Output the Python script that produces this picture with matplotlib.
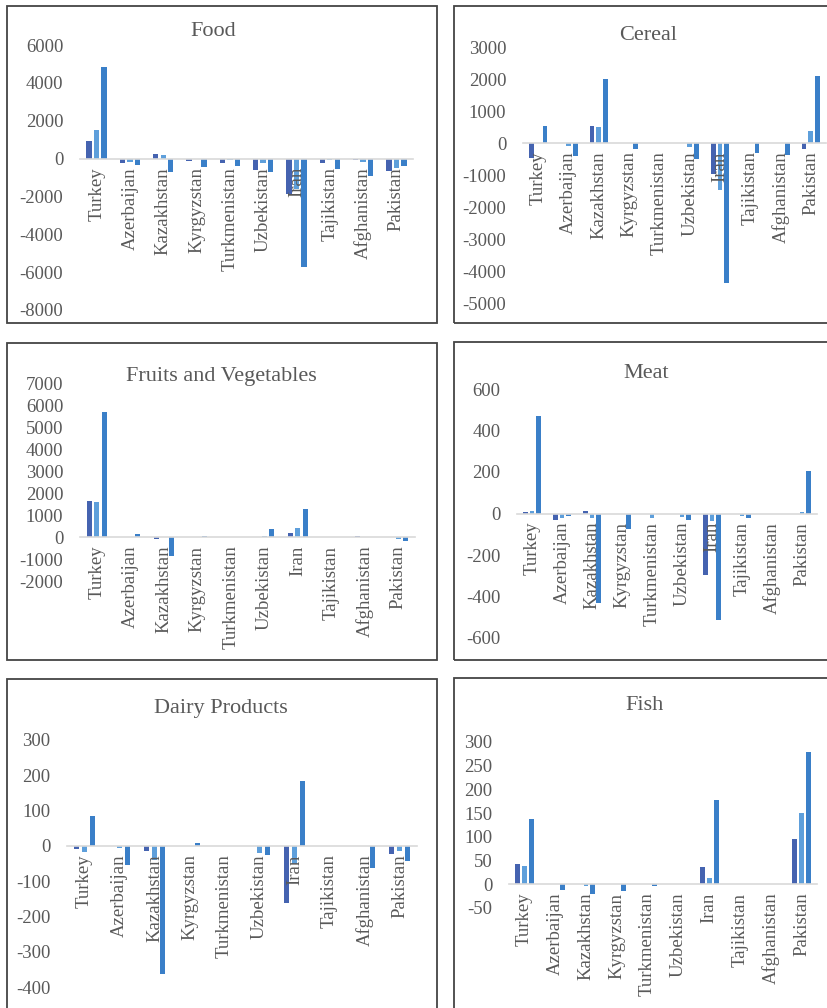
import numpy as np
import matplotlib
matplotlib.use("Agg")
import matplotlib.pyplot as plt
from matplotlib.patches import Rectangle

countries = ["Turkey", "Azerbaijan", "Kazakhstan", "Kyrgyzstan", "Turkmenistan",
             "Uzbekistan", "Iran", "Tajikistan", "Afghanistan", "Pakistan"]

# three series per panel (dark, light, medium blue)
food_s1 = [950, -210, 230, -140, -250, -600, -1870, -250, -90, -650]
food_s2 = [1500, -200, 180, -30, -90, -250, -1600, -90, -160, -490]
food_s3 = [4850, -350, -700, -440, -390, -700, -5730, -550, -920, -390]

cereal_s1 = [-480, 0, 520, 0, 0, 0, -970, 0, 0, -180]
cereal_s2 = [0, -100, 490, 0, 0, -130, -1460, 0, 0, 375]
cereal_s3 = [520, -420, 2010, -200, 0, -490, -4375, -310, -375, 2100]

fruit_s1 = [1670, 0, -90, 0, 0, 0, 210, 0, 60, 0]
fruit_s2 = [1620, 0, 0, 0, 0, 60, 430, 0, 0, -80]
fruit_s3 = [5730, 150, -860, 60, 0, 380, 1300, 0, 0, -170]

meat_s1 = [5, -29, 11, 0, 0, 0, -295, 0, 0, 0]
meat_s2 = [10, -24, -24, 0, -24, -19, -35, -13, 0, 5]
meat_s3 = [470, -11, -430, -76, 0, -29, -513, -24, 0, 206]

dairy_s1 = [-9, 0, -15, 0, 0, 0, -162, 0, 0, -23]
dairy_s2 = [-17, -7, -41, 0, 0, -20, -50, 0, 0, -15]
dairy_s3 = [86, -55, -363, 7, 0, -26, 185, 0, -62, -44]

fish_s1 = [43, 0, 0, 0, 0, 0, 37, 0, 0, 96]
fish_s2 = [39, 0, -4, 0, 0, 0, 13, 0, 0, 151]
fish_s3 = [137, -11, -20, -15, -4, 0, 178, 0, 0, 278]

colors = ["#4563b0", "#5e9fdb", "#3a7fc8"]
W, H = 828, 1008
GRAY = "#595959"
FONT = "Liberation Serif"

fig = plt.figure(figsize=(W / 100, H / 100), dpi=100)


def box(x0, y0, x1, y1):
    fig.patches.append(Rectangle((x0 / W, 1 - y1 / H), (x1 - x0) / W, (y1 - y0) / H,
                                 transform=fig.transFigure, fill=False,
                                 edgecolor="#444444", linewidth=1.3, zorder=0))


def panel(px, title, title_xy, series, ticks):
    l, t, r, b = px
    ax = fig.add_axes([l / W, 1 - b / H, (r - l) / W, (b - t) / H])
    # zero-line axis first: moving the spine resets tick settings
    for s in ["top", "right", "left"]:
        ax.spines[s].set_visible(False)
    ax.spines["bottom"].set_position(("data", 0))
    ax.spines["bottom"].set_color("#d9d9d9")
    ax.spines["bottom"].set_linewidth(1.2)
    x = np.arange(len(countries))
    for k, (vals, c) in enumerate(zip(series, colors)):
        ax.bar(x + (k - 1) * 0.225, vals, width=0.16, color=c, zorder=1)
    ax.set_xlim(-0.5, len(countries) - 0.5)
    ax.set_ylim(ticks[0], ticks[-1])
    ax.set_yticks(ticks)
    ax.set_yticklabels([str(v) for v in ticks], fontsize=13.5, color=GRAY, family=FONT)
    ax.set_xticks(x)
    ax.set_xticklabels(countries, rotation=90, fontsize=13.5, color=GRAY, family=FONT,
                       va="top", ha="center")
    ax.tick_params(axis="both", length=0)
    ax.tick_params(axis="x", pad=6)
    ax.tick_params(axis="y", pad=12)
    ax.patch.set_alpha(0)
    fig.text(title_xy[0] / W, 1 - (title_xy[1] + 3) / H, title, ha="center", va="center",
             fontsize=16, color=GRAY, family=FONT)
    return ax


box(7, 6, 437, 323)
box(454, 6, 832, 323)
box(7, 343, 437, 660)
box(454, 342, 832, 660)
box(7, 679, 437, 1012)
box(454, 678, 832, 1012)

panel((80, 45, 413, 310), "Food", (213, 28), [food_s1, food_s2, food_s3],
      list(range(-8000, 6001, 2000)))
panel((523, 47, 826, 303), "Cereal", (648, 33), [cereal_s1, cereal_s2, cereal_s3],
      list(range(-5000, 3001, 1000)))
panel((80, 384, 415, 581), "Fruits and Vegetables", (221, 373),
      [fruit_s1, fruit_s2, fruit_s3], list(range(-2000, 7001, 1000)))
panel((517, 389, 817, 638), "Meat", (646, 370), [meat_s1, meat_s2, meat_s3],
      list(range(-600, 601, 200)))
panel((67, 740, 417, 987), "Dairy Products", (221, 706), [dairy_s1, dairy_s2, dairy_s3],
      list(range(-400, 301, 100)))
panel((509, 742, 817, 908), "Fish", (645, 703), [fish_s1, fish_s2, fish_s3],
      list(range(-50, 301, 50)))

fig.savefig("out.png", dpi=100, facecolor="white")
